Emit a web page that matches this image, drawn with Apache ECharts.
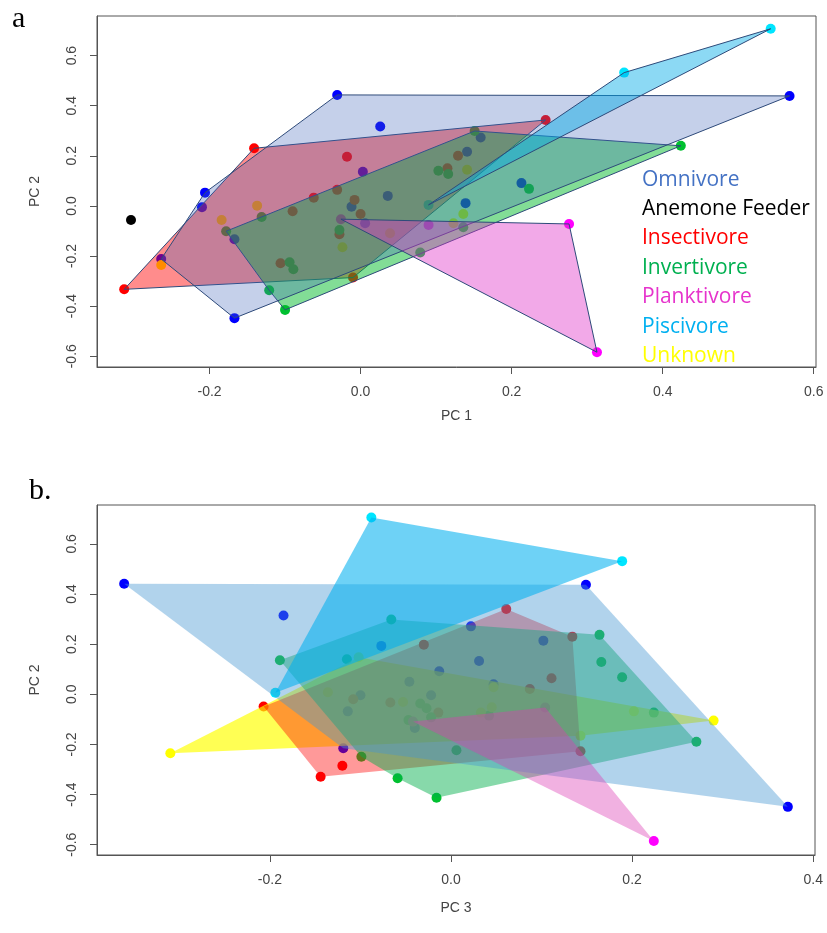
<!DOCTYPE html>
<html>
<head>
<meta charset="utf-8">
<script src="https://cdn.jsdelivr.net/npm/echarts@6/dist/echarts.min.js"></script>
<style>
  html, body { margin: 0; padding: 0; background: #fff; }
  #chart { width: 827px; height: 933px; }
</style>
</head>
<body>
<div id="chart"></div>
<script>
// trophic groups, legend order
const groups = ["Omnivore", "Anemone Feeder", "Insectivore", "Invertivore", "Planktivore", "Piscivore", "Unknown"]
const legendColors = ["#4472c4", "#000000", "#ff0000", "#00b050", "#e633cc", "#00b0f0", "#ffff00"]
const pointColors = ["#0000ff", "#000000", "#ff0000", "#00c030", "#ff00ff", "#00e5ff", "#ffff00"]

const xTicksA = [-0.2, 0.0, 0.2, 0.4, 0.6]
const xTicksB = [-0.2, 0.0, 0.2, 0.4]
const yTicks = [-0.6, -0.4, -0.2, 0.0, 0.2, 0.4, 0.6]

// panel a: [PC1, PC2]
const aOmnivore = [[-0.031, 0.443], [0.026, 0.317], [-0.206, 0.053], [-0.210, -0.005], [0.003, 0.136], [-0.167, -0.133], [-0.012, -0.003], [0.006, -0.069], [-0.264, -0.212], [-0.167, -0.448], [0.159, 0.273], [0.141, 0.216], [0.036, 0.040], [0.213, 0.091], [0.568, 0.439], [0.139, 0.011]]
const aAnemone = [[-0.304, -0.056]]
const aInsectivore = [[-0.141, 0.230], [-0.018, 0.196], [-0.090, -0.021], [-0.062, 0.033], [-0.031, 0.064], [-0.008, 0.024], [0.000, -0.032], [-0.028, -0.113], [-0.106, -0.229], [-0.313, -0.333], [-0.010, -0.286], [0.245, 0.343], [0.129, 0.200], [0.115, 0.150]]
const aInvertivore = [[0.151, 0.299], [0.103, 0.140], [0.116, 0.127], [0.136, -0.085], [0.079, -0.186], [0.223, 0.068], [0.424, 0.240], [-0.131, -0.044], [-0.178, -0.101], [-0.028, -0.096], [-0.094, -0.225], [-0.089, -0.253], [-0.121, -0.337], [-0.100, -0.415]]
const aPlanktivore = [[-0.026, -0.053], [0.276, -0.072], [0.313, -0.584], [0.090, -0.076]]
const aPiscivore = [[0.543, 0.707], [0.349, 0.532], [0.090, 0.004]]
const aUnknown = [[-0.137, 0.001], [-0.184, -0.056], [-0.264, -0.236], [-0.024, -0.165], [0.141, 0.144], [0.136, -0.032], [0.039, -0.109], [0.123, -0.069]]

// panel b: [PC3, PC2]
const bOmnivore = [[-0.361, 0.441], [-0.185, 0.314], [0.149, 0.437], [0.372, -0.449], [-0.119, -0.215], [0.022, 0.271], [0.102, 0.214], [0.031, 0.133], [-0.013, 0.092], [0.047, 0.040], [-0.077, 0.193], [-0.046, 0.050], [-0.100, -0.004], [-0.114, -0.068], [-0.022, -0.004], [-0.040, -0.134]]
const bInsectivore = [[-0.207, -0.049], [-0.120, -0.285], [-0.144, -0.329], [0.061, 0.340], [0.134, 0.230], [0.143, -0.227], [-0.030, 0.198], [0.111, 0.064], [0.087, 0.021], [-0.108, -0.020], [-0.067, -0.033], [-0.014, -0.073]]
const bInvertivore = [[-0.066, 0.298], [-0.189, 0.136], [-0.115, 0.140], [-0.034, -0.037], [-0.047, -0.103], [-0.022, -0.092], [0.006, -0.223], [-0.059, -0.335], [-0.016, -0.413], [0.164, 0.237], [0.166, 0.129], [0.189, 0.068], [0.224, -0.073], [0.271, -0.189], [0.042, -0.085], [-0.099, -0.249], [-0.027, -0.056]]
const bPlanktivore = [[-0.042, -0.109], [0.104, -0.053], [0.224, -0.585]]
const bPiscivore = [[-0.088, 0.705], [0.189, 0.531], [-0.194, 0.006]]
const bUnknown = [[-0.310, -0.235], [-0.102, 0.148], [-0.136, 0.008], [-0.053, -0.031], [0.045, -0.052], [0.033, -0.073], [0.202, -0.068], [0.143, -0.165], [0.290, -0.105], [0.047, 0.028]]

const pointsA = [aOmnivore, aAnemone, aInsectivore, aInvertivore, aPlanktivore, aPiscivore, aUnknown]
const pointsB = [bOmnivore, [], bInsectivore, bInvertivore, bPlanktivore, bPiscivore, bUnknown]

// hull drawing order + fills
const hullsA = [
  ["Insectivore", "rgba(255,0,0,0.45)"],
  ["Invertivore", "rgba(0,185,40,0.49)"],
  ["Omnivore", "rgba(62,98,185,0.3)"],
  ["Piscivore", "rgba(0,170,230,0.45)"],
  ["Planktivore", "rgba(225,50,200,0.42)"],
]
const hullsB = [
  ["Unknown", "rgba(255,255,0,0.67)"],
  ["Insectivore", "rgba(255,0,0,0.4)"],
  ["Invertivore", "rgba(0,174,74,0.47)"],
  ["Omnivore", "rgba(70,150,210,0.42)"],
  ["Piscivore", "rgba(0,175,240,0.57)"],
  ["Planktivore", "rgba(220,60,180,0.4)"],
]

function convexHull(pts) {
  const p = pts.slice().sort((a, b) => a[0] - b[0] || a[1] - b[1])
  if (p.length < 3) return p
  const cross = (o, a, b) => (a[0] - o[0]) * (b[1] - o[1]) - (a[1] - o[1]) * (b[0] - o[0])
  const lower = []
  for (const q of p) {
    while (lower.length >= 2 && cross(lower[lower.length - 2], lower[lower.length - 1], q) <= 0) lower.pop()
    lower.push(q)
  }
  const upper = []
  for (let i = p.length - 1; i >= 0; i--) {
    const q = p[i]
    while (upper.length >= 2 && cross(upper[upper.length - 2], upper[upper.length - 1], q) <= 0) upper.pop()
    upper.push(q)
  }
  upper.pop()
  lower.pop()
  return lower.concat(upper)
}

const chart = echarts.init(document.getElementById("chart"))

const tickFont = { fontFamily: "Liberation Sans", fontSize: 14, color: "#444" }
const fmt = (v) => v.toFixed(1)

function xAxisFor(gridIndex, min, max, ticks, name, gap) {
  return {
    gridIndex, type: "value", min, max, name,
    nameLocation: "middle", nameGap: gap,
    nameTextStyle: tickFont,
    axisLine: { show: true, onZero: false, lineStyle: { color: "#555" } },
    axisTick: { show: true, length: 7, customValues: ticks, lineStyle: { color: "#555" } },
    axisLabel: { ...tickFont, margin: 18, customValues: ticks, formatter: fmt },
    splitLine: { show: false },
  }
}
function yAxisFor(gridIndex, min, max) {
  return {
    gridIndex, type: "value", min, max, name: "PC 2",
    nameLocation: "middle", nameGap: 55,
    nameTextStyle: tickFont,
    axisLine: { show: true, onZero: false, lineStyle: { color: "#555" } },
    axisTick: { show: true, length: 7, customValues: yTicks, lineStyle: { color: "#555" } },
    axisLabel: { ...tickFont, margin: 18, rotate: 90, customValues: yTicks, formatter: fmt },
    splitLine: { show: false },
  }
}

const series = []
function addPanel(idx, pts, hulls, stroke) {
  groups.forEach((g, i) => {
    if (!pts[i].length) return
    series.push({
      name: g, type: "scatter", xAxisIndex: idx, yAxisIndex: idx, z: 2,
      symbolSize: 10, data: pts[i],
      itemStyle: { color: pointColors[i], opacity: 1 },
    })
  })
  hulls.forEach(([g, fill]) => {
    const hull = convexHull(pts[groups.indexOf(g)])
    series.push({
      name: g, type: "custom", xAxisIndex: idx, yAxisIndex: idx, z: 3,
      data: [hull[0]],
      renderItem: (params, api) => ({
        type: "polygon",
        shape: { points: hull.map((p) => api.coord(p)) },
        style: { fill, stroke: stroke || null, lineWidth: stroke ? 1 : 0 },
      }),
      silent: true,
    })
  })
}
addPanel(0, pointsA, hullsA, "#2e4a7a")
addPanel(1, pointsB, hullsB, null)

const option = {
  backgroundColor: "#fff",
  animation: false,
  title: [
    { text: "a", left: 7, top: -1, textStyle: { fontFamily: "Liberation Serif", fontSize: 30, fontWeight: "normal", color: "#000" } },
    { text: "b.", left: 24, top: 471, textStyle: { fontFamily: "Liberation Serif", fontSize: 30, fontWeight: "normal", color: "#000" } },
  ],
  legend: {
    orient: "vertical", left: 630, top: 160,
    icon: "none", itemWidth: 2, itemGap: 0, selectedMode: false,
    data: groups.map((g, i) => ({
      name: g,
      textStyle: { color: legendColors[i], fontFamily: "Open Sans", fontSize: 21, lineHeight: 29.4 },
    })),
  },
  grid: [
    { left: 97, top: 16, right: 11, height: 351, show: true, borderColor: "#555", borderWidth: 1 },
    { left: 97, top: 505, right: 12, height: 350, show: true, borderColor: "#555", borderWidth: 1 },
  ],
  xAxis: [
    xAxisFor(0, -0.349, 0.603, xTicksA, "PC 1", 42),
    xAxisFor(1, -0.391, 0.402, xTicksB, "PC 3", 46),
  ],
  yAxis: [
    yAxisFor(0, -0.643, 0.758),
    yAxisFor(1, -0.641, 0.755),
  ],
  series,
}

chart.setOption(option)
</script>
</body>
</html>
